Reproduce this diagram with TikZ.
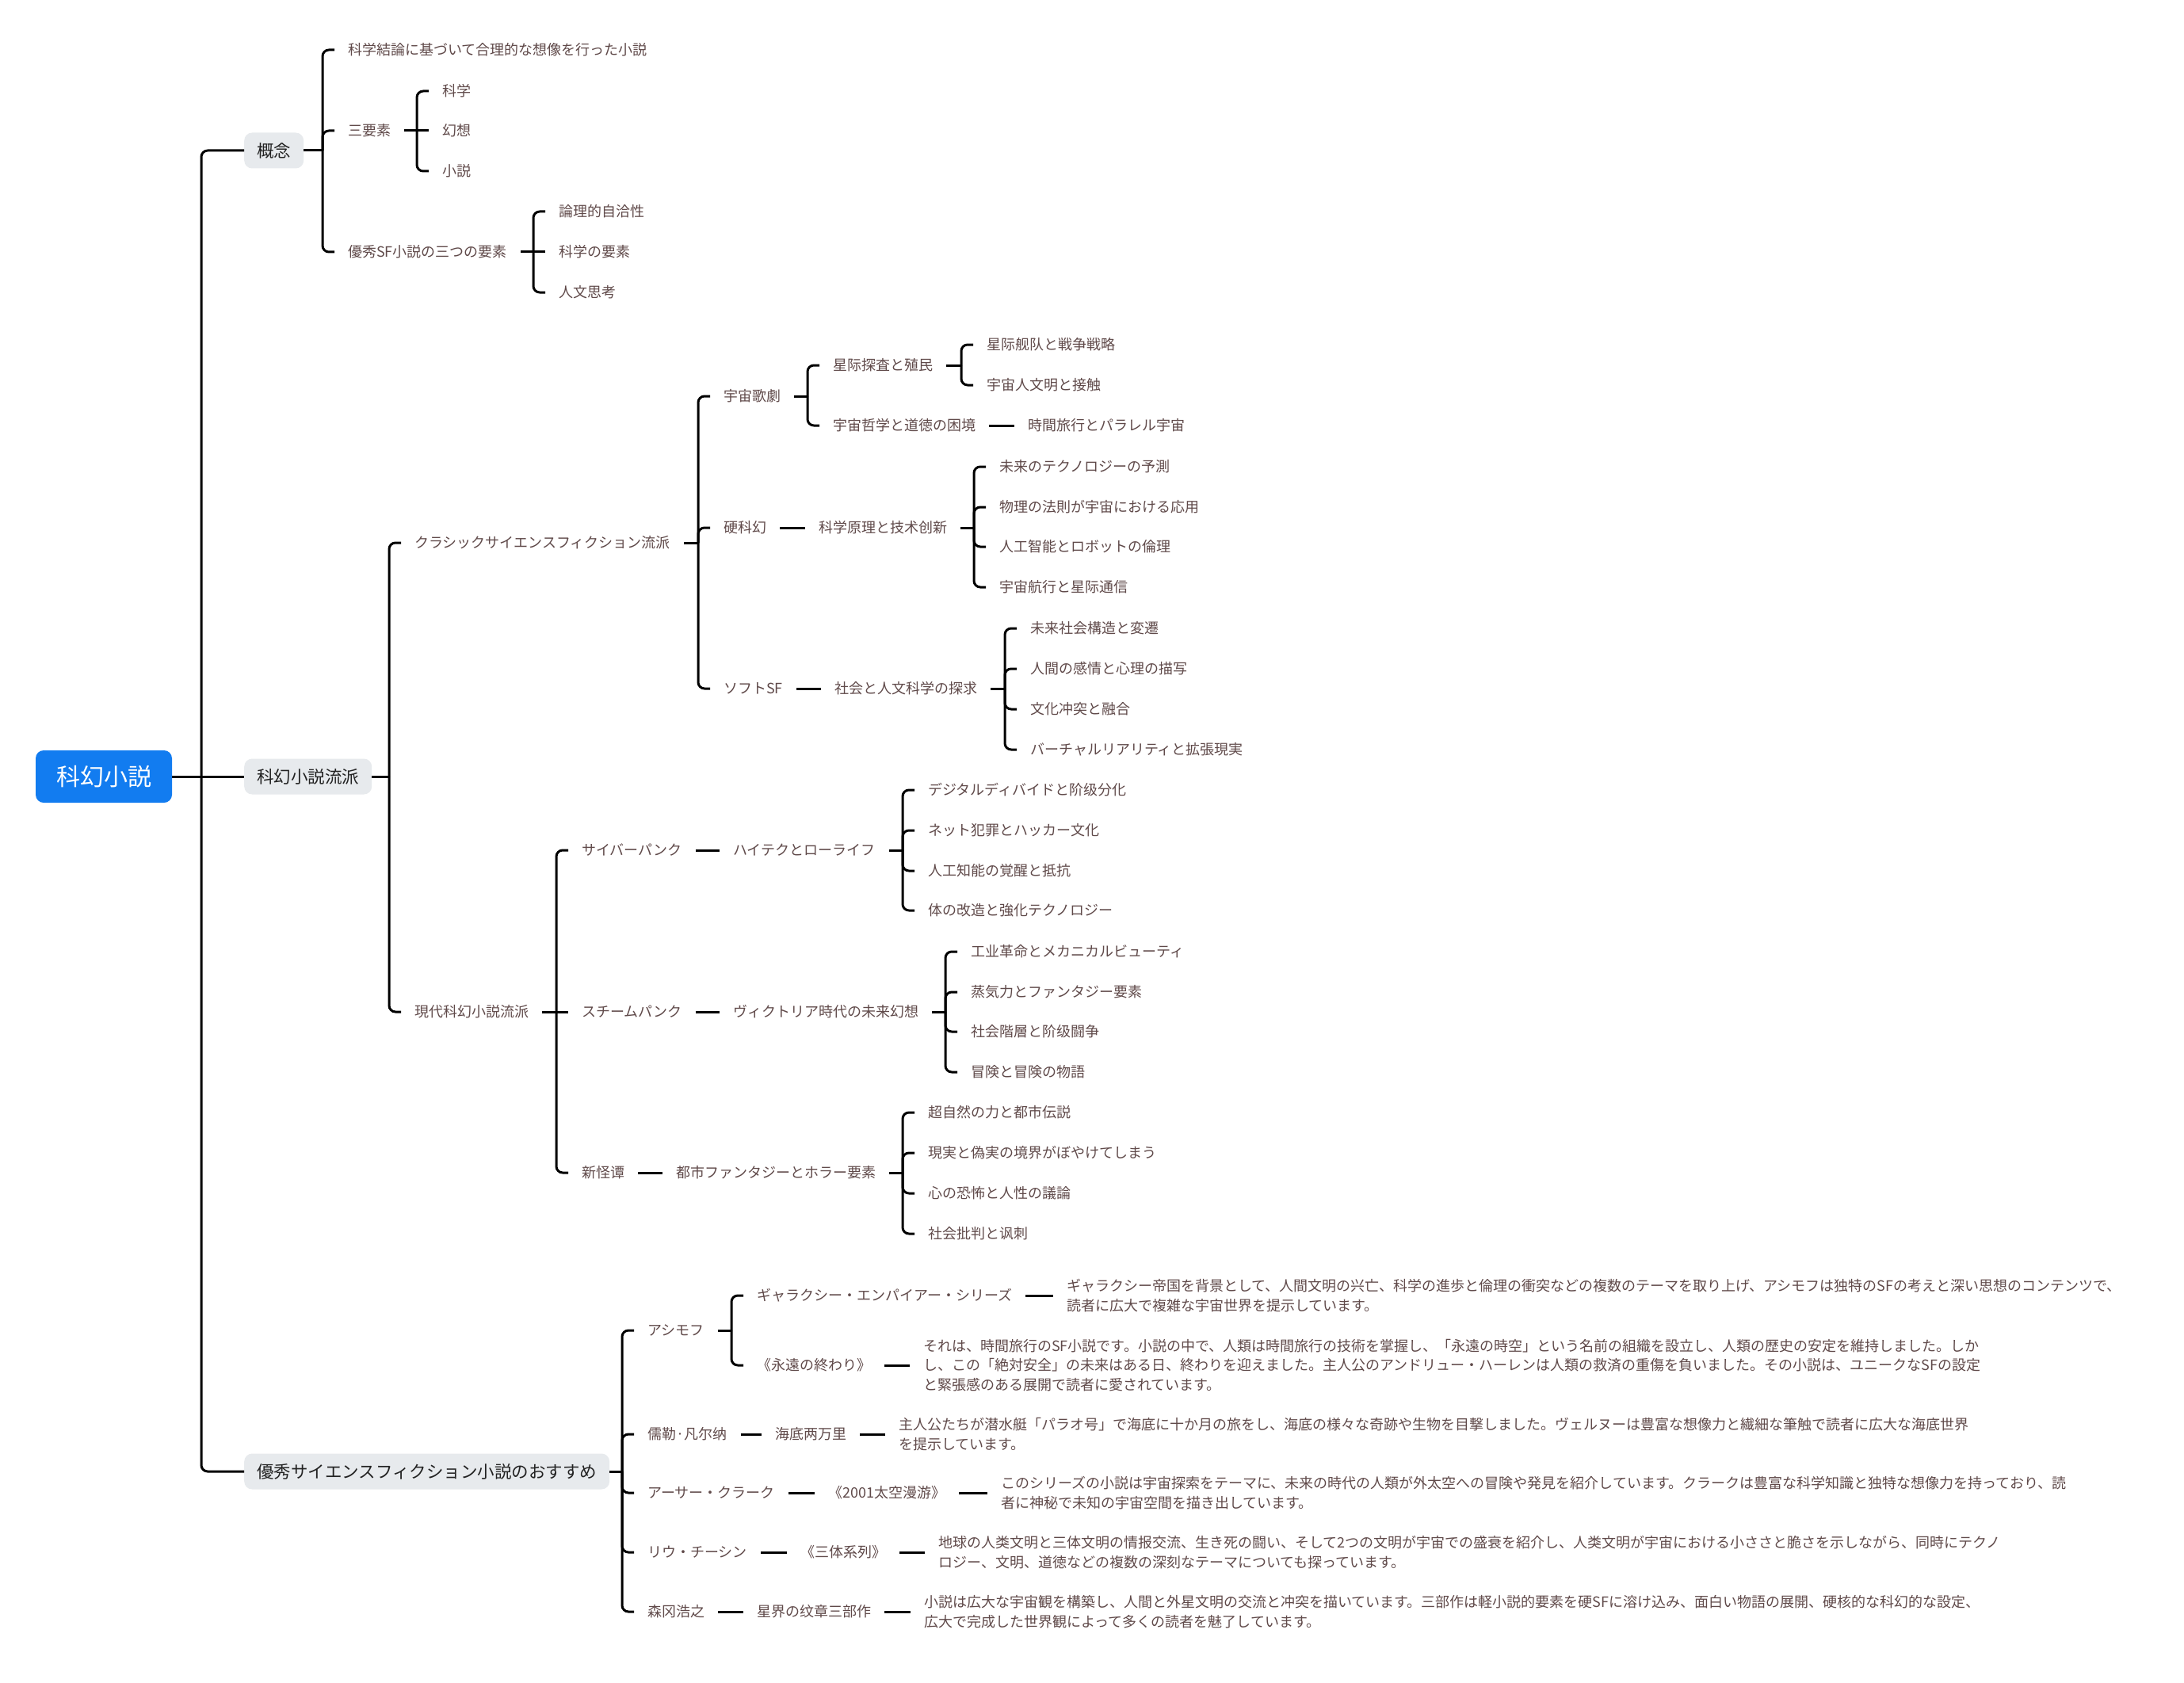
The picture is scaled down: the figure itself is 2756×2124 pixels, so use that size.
\documentclass[tikz,border=0pt]{standalone}
\usepackage{fontspec}
\setmainfont{Noto Sans CJK JP}
\definecolor{rootblue}{RGB}{18,124,240}
\definecolor{boxgray}{RGB}{231,234,237}
\definecolor{txt}{RGB}{96,74,74}
\definecolor{ltxt}{RGB}{34,34,34}
\newcommand\junc[2]{\path (#2.west) ++(-15pt,0) coordinate (#1x); \coordinate (#1j) at (#1.east -| #1x); \draw[conn] (#1.east) -- (#1j);}
\begin{document}
\begin{tikzpicture}[x=1pt,y=-1pt,
  base/.style={font=\fontsize{18}{24.6}\selectfont, text=txt, inner xsep=17pt, inner ysep=3pt, anchor=west, xshift=-17pt},
  t/.style={base, text height=15.8pt, text depth=2.2pt},
  desc/.style={base, align=left},
  conn/.style={line width=3pt, draw=black, rounded corners=8pt},
  rootbox/.style={fill=rootblue, rounded corners=10pt, text=white, font=\fontsize{30}{36}\selectfont, minimum width=172pt, minimum height=66pt, inner sep=0pt},
  lone/.style={fill=boxgray, rounded corners=10pt, text=ltxt, font=\fontsize{21.5}{26}\selectfont, inner xsep=16pt, inner ysep=0pt, minimum height=45pt, anchor=west, text height=19pt, text depth=2.5pt}
]
\fill[white] (0,0) rectangle (2756,2124);
\useasboundingbox (0,0) rectangle (2756,2124);

% root and level 1
\node[rootbox] (root) at (131,980) {科幻小説};
\node[lone] (gainen) at (308,190) {概念};
\node[lone] (ryuha) at (308,980) {科幻小説流派};
\node[lone] (osusume) at (308,1857) {優秀サイエンスフィクション小説のおすすめ};

% 概念
\node[t] (g1) at (439,63) {科学結論に基づいて合理的な想像を行った小説};
\node[t] (g2) at (439,165) {三要素};
\node[t] (g3) at (439,318) {優秀SF小説の三つの要素};
\node[t] (g21) at (558,115) {科学};
\node[t] (g22) at (558,165) {幻想};
\node[t] (g23) at (558,216) {小説};
\node[t] (g31) at (705,267) {論理的自洽性};
\node[t] (g32) at (705,318) {科学の要素};
\node[t] (g33) at (705,369) {人文思考};

% 科幻小説流派
\node[t] (r1) at (523,685) {クラシックサイエンスフィクション流派};
\node[t] (r2) at (523,1277) {現代科幻小説流派};
\node[t] (r11) at (913,500) {宇宙歌劇};
\node[t] (r12) at (913,666) {硬科幻};
\node[t] (r13) at (913,869) {ソフトSF};
\node[t] (r111) at (1051,461) {星际探査と殖民};
\node[t] (r112) at (1051,537) {宇宙哲学と道徳の困境};
\node[t] (r1111) at (1245,435) {星际舰队と戦争戦略};
\node[t] (r1112) at (1245,486) {宇宙人文明と接触};
\node[t] (r1121) at (1297,537) {時間旅行とパラレル宇宙};
\node[t] (r121) at (1033,666) {科学原理と技术创新};
\node[t] (r1211) at (1261,589) {未来のテクノロジーの予測};
\node[t] (r1212) at (1261,640) {物理の法則が宇宙における応用};
\node[t] (r1213) at (1261,690) {人工智能とロボットの倫理};
\node[t] (r1214) at (1261,741) {宇宙航行と星际通信};
\node[t] (r131) at (1053,869) {社会と人文科学の探求};
\node[t] (r1311) at (1300,793) {未来社会構造と変遷};
\node[t] (r1312) at (1300,844) {人間の感情と心理の描写};
\node[t] (r1313) at (1300,895) {文化冲突と融合};
\node[t] (r1314) at (1300,946) {バーチャルリアリティと拡張現実};

\node[t] (r21) at (734,1073) {サイバーパンク};
\node[t] (r22) at (734,1277) {スチームパンク};
\node[t] (r23) at (734,1480) {新怪谭};
\node[t] (r211) at (925,1073) {ハイテクとローライフ};
\node[t] (r2111) at (1171,997) {デジタルディバイドと阶级分化};
\node[t] (r2112) at (1171,1048) {ネット犯罪とハッカー文化};
\node[t] (r2113) at (1171,1099) {人工知能の覚醒と抵抗};
\node[t] (r2114) at (1171,1149) {体の改造と強化テクノロジー};
\node[t] (r221) at (925,1277) {ヴィクトリア時代の未来幻想};
\node[t] (r2211) at (1225,1201) {工业革命とメカニカルビューティ};
\node[t] (r2212) at (1225,1252) {蒸気力とファンタジー要素};
\node[t] (r2213) at (1225,1302) {社会階層と阶级闘争};
\node[t] (r2214) at (1225,1353) {冒険と冒険の物語};
\node[t] (r231) at (853,1480) {都市ファンタジーとホラー要素};
\node[t] (r2311) at (1171,1404) {超自然の力と都市伝説};
\node[t] (r2312) at (1171,1455) {現実と偽実の境界がぼやけてしまう};
\node[t] (r2313) at (1171,1506) {心の恐怖と人性の議論};
\node[t] (r2314) at (1171,1557) {社会批判と讽刺};

% おすすめ
\node[t] (o1) at (817,1679) {アシモフ};
\node[t] (o2) at (817,1810) {儒勒·凡尔纳};
\node[t] (o3) at (817,1884) {アーサー・クラーク};
\node[t] (o4) at (817,1959) {リウ・チーシン};
\node[t] (o5) at (817,2034) {森冈浩之};
\node[t] (o11) at (955,1635) {ギャラクシー・エンパイアー・シリーズ};
\node[t] (o12) at (955,1723) {《永遠の終わり》};
\node[desc] (o111) at (1346,1635) {ギャラクシー帝国を背景として、人間文明の兴亡、科学の進歩と倫理の衝突などの複数のテーマを取り上げ、アシモフは独特のSFの考えと深い思想のコンテンツで、\\読者に広大で複雑な宇宙世界を提示しています。};
\node[desc] (o121) at (1165,1723) {それは、時間旅行のSF小説です。小説の中で、人類は時間旅行の技術を掌握し、「永遠の時空」という名前の組織を設立し、人類の歴史の安定を維持しました。しか\\し、この「絶対安全」の未来はある日、終わりを迎えました。主人公のアンドリュー・ハーレンは人類の救済の重傷を負いました。その小説は、ユニークなSFの設定\\と緊張感のある展開で読者に愛されています。};
\node[t] (o21) at (978,1810) {海底两万里};
\node[desc] (o211) at (1134,1810) {主人公たちが潜水艇「パラオ号」で海底に十か月の旅をし、海底の様々な奇跡や生物を目撃しました。ヴェルヌーは豊富な想像力と繊細な筆触で読者に広大な海底世界\\を提示しています。};
\node[t] (o31) at (1045,1884) {《2001太空漫游》};
\node[desc] (o311) at (1263,1884) {このシリーズの小説は宇宙探索をテーマに、未来の時代の人類が外太空への冒険や発見を紹介しています。クラークは豊富な科学知識と独特な想像力を持っており、読\\者に神秘で未知の宇宙空間を描き出しています。};
\node[t] (o41) at (1010,1959) {《三体系列》};
\node[desc] (o411) at (1184,1959) {地球の人类文明と三体文明の情报交流、生き死の闘い、そして2つの文明が宇宙での盛衰を紹介し、人类文明が宇宙における小ささと脆さを示しながら、同時にテクノ\\ロジー、文明、道徳などの複数の深刻なテーマについても探っています。};
\node[t] (o51) at (955,2034) {星界の纹章三部作};
\node[desc] (o511) at (1166,2034) {小説は広大な宇宙観を構築し、人間と外星文明の交流と冲突を描いています。三部作は軽小説的要素を硬SFに溶け込み、面白い物語の展開、硬核的な科幻的な設定、\\広大で完成した世界観によって多くの読者を魅了しています。};

% trunk
\path (ryuha.west) ++(-54pt,0) coordinate (trx);
\coordinate (rootj) at (root.east -| trx);
\draw[conn] (root.east) -- (ryuha.west);
\draw[conn] (rootj) |- (gainen.west);
\draw[conn] (rootj) |- (osusume.west);

% 概念 forks
\junc{gainen}{g1}
\draw[conn] (gainenj) |- (g1.west);
\draw[conn] (gainenj) |- (g2.west);
\draw[conn] (gainenj) |- (g3.west);
\junc{g2}{g21}
\draw[conn] (g2j) |- (g21.west);
\draw[conn] (g2j) -- (g22.west);
\draw[conn] (g2j) |- (g23.west);
\junc{g3}{g31}
\draw[conn] (g3j) |- (g31.west);
\draw[conn] (g3j) -- (g32.west);
\draw[conn] (g3j) |- (g33.west);

% 流派 forks
\junc{ryuha}{r1}
\draw[conn] (ryuhaj) |- (r1.west);
\draw[conn] (ryuhaj) |- (r2.west);
\junc{r1}{r11}
\draw[conn] (r1j) |- (r11.west);
\draw[conn] (r1j) |- (r12.west);
\draw[conn] (r1j) |- (r13.west);
\junc{r11}{r111}
\draw[conn] (r11j) |- (r111.west);
\draw[conn] (r11j) |- (r112.west);
\junc{r111}{r1111}
\draw[conn] (r111j) |- (r1111.west);
\draw[conn] (r111j) |- (r1112.west);
\draw[conn] (r112.east) -- (r1121.west);
\draw[conn] (r12.east) -- (r121.west);
\junc{r121}{r1211}
\draw[conn] (r121j) |- (r1211.west);
\draw[conn] (r121j) |- (r1212.west);
\draw[conn] (r121j) |- (r1213.west);
\draw[conn] (r121j) |- (r1214.west);
\draw[conn] (r13.east) -- (r131.west);
\junc{r131}{r1311}
\draw[conn] (r131j) |- (r1311.west);
\draw[conn] (r131j) |- (r1312.west);
\draw[conn] (r131j) |- (r1313.west);
\draw[conn] (r131j) |- (r1314.west);

\junc{r2}{r21}
\draw[conn] (r2j) |- (r21.west);
\draw[conn] (r2j) -- (r22.west);
\draw[conn] (r2j) |- (r23.west);
\draw[conn] (r21.east) -- (r211.west);
\junc{r211}{r2111}
\draw[conn] (r211j) |- (r2111.west);
\draw[conn] (r211j) |- (r2112.west);
\draw[conn] (r211j) |- (r2113.west);
\draw[conn] (r211j) |- (r2114.west);
\draw[conn] (r22.east) -- (r221.west);
\junc{r221}{r2211}
\draw[conn] (r221j) |- (r2211.west);
\draw[conn] (r221j) |- (r2212.west);
\draw[conn] (r221j) |- (r2213.west);
\draw[conn] (r221j) |- (r2214.west);
\draw[conn] (r23.east) -- (r231.west);
\junc{r231}{r2311}
\draw[conn] (r231j) |- (r2311.west);
\draw[conn] (r231j) |- (r2312.west);
\draw[conn] (r231j) |- (r2313.west);
\draw[conn] (r231j) |- (r2314.west);

% おすすめ forks
\junc{osusume}{o1}
\draw[conn] (osusumej) |- (o1.west);
\draw[conn] (osusumej) |- (o2.west);
\draw[conn] (osusumej) |- (o3.west);
\draw[conn] (osusumej) |- (o4.west);
\draw[conn] (osusumej) |- (o5.west);
\junc{o1}{o11}
\draw[conn] (o1j) |- (o11.west);
\draw[conn] (o1j) |- (o12.west);
\draw[conn] (o11.east) -- (o111.west);
\draw[conn] (o12.east) -- (o121.west);
\draw[conn] (o2.east) -- (o21.west);
\draw[conn] (o21.east) -- (o211.west);
\draw[conn] (o3.east) -- (o31.west);
\draw[conn] (o31.east) -- (o311.west);
\draw[conn] (o4.east) -- (o41.west);
\draw[conn] (o41.east) -- (o411.west);
\draw[conn] (o5.east) -- (o51.west);
\draw[conn] (o51.east) -- (o511.west);
\end{tikzpicture}
\end{document}
